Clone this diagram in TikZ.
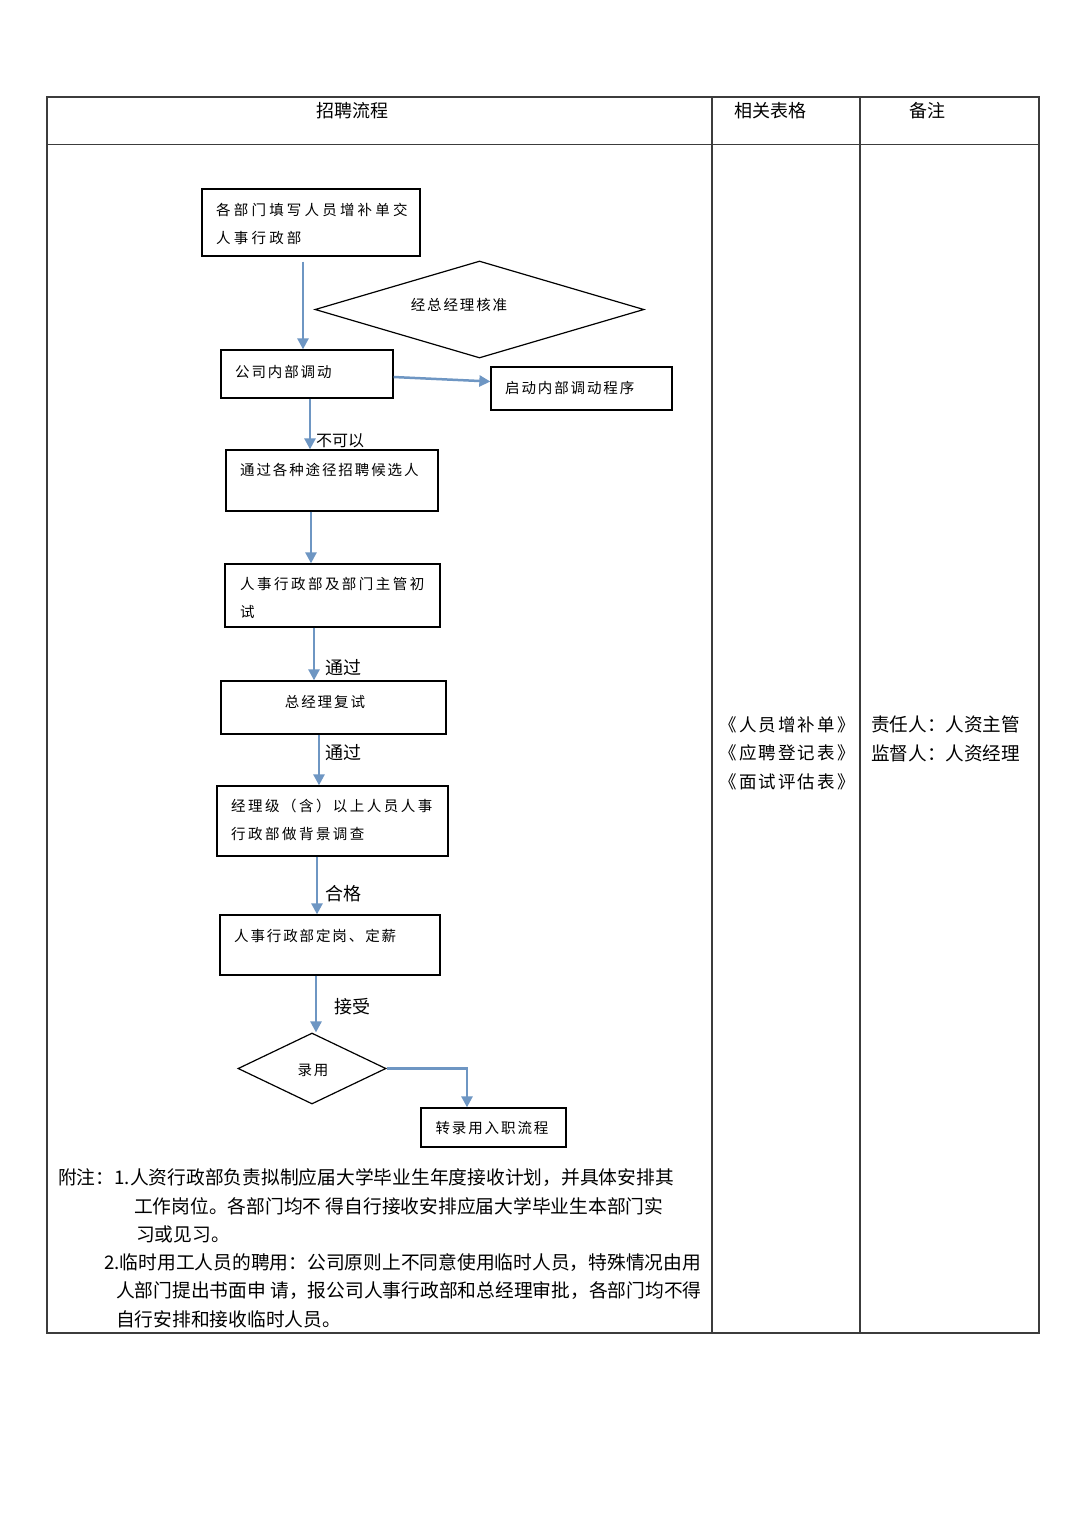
\documentclass[tikz,border=0pt]{standalone}
\usepackage{fontspec}
\setmainfont{Noto Sans CJK SC}
\newfontfamily\flfont[LetterSpace=13]{Noto Sans CJK SC}
\newfontfamily\flwide[LetterSpace=17]{Noto Sans CJK SC}
\newfontfamily\flwider[LetterSpace=22]{Noto Sans CJK SC}
\newfontfamily\formfont[LetterSpace=12]{Noto Sans CJK SC}
\usetikzlibrary{arrows.meta,shapes.geometric}
\definecolor{arrblue}{RGB}{110,150,195}
\definecolor{tabline}{RGB}{60,60,60}
\tikzset{
  flowbox/.style={draw=black, line width=1.3pt, rectangle, inner sep=0pt},
  decbox/.style={draw=black, line width=1.2pt, diamond, inner sep=0pt},
  flowtxt/.style={inner sep=0pt, font=\flfont\fontsize{14.5}{16}\selectfont},
  flowtxtw/.style={inner sep=0pt, font=\flwide\fontsize{14.5}{16}\selectfont},
  flowtxtww/.style={inner sep=0pt, font=\flwider\fontsize{14.5}{16}\selectfont},
  lbl/.style={inner sep=0pt, font=\fontsize{18}{20}\selectfont},
  hdr/.style={inner sep=0pt, font=\fontsize{18}{20}\selectfont},
  note/.style={inner sep=0pt, anchor=west, font=\fontsize{18.75}{20}\selectfont},
  arr/.style={draw=arrblue, line width=2.5pt, -{Triangle[length=11pt,width=11pt]}},
}
\begin{document}
\begin{tikzpicture}[x=1pt,y=-1pt]
\useasboundingbox (0,0) rectangle (1080,1527);
\fill[white] (0,0) rectangle (1080,1527);

% table
\draw[tabline, line width=1.2pt] (47,97) rectangle (1039,1333);
\draw[tabline, line width=1pt] (47,144) -- (1039,144);
\draw[tabline, line width=1.2pt] (712,97) -- (712,1333);
\draw[tabline, line width=1.2pt] (860,97) -- (860,1333);

\node[hdr] (h1) at (352,111) {招聘流程};
\node[hdr] (h2) at (770,111) {相关表格};
\node[hdr] (h3) at (927,111) {备注};

% flow boxes
\node[flowbox, minimum width=218pt, minimum height=67pt] (b1) at (311,222.5) {};
\node[flowtxtww, anchor=west] (t1a) at (216,210) {各部门填写人员增补单交};
\node[flowtxtww, anchor=west] (t1b) at (216,238) {人事行政部};

\node[decbox, minimum width=329pt, minimum height=97pt] (d1) at (479.5,309.5) {};
\node[flowtxt] (td1) at (459,305) {经总经理核准};

\node[flowbox, minimum width=172pt, minimum height=48pt] (b2) at (307,374) {};
\node[flowtxt, anchor=west] (t2) at (235,372) {公司内部调动};

\node[flowbox, minimum width=181pt, minimum height=43pt] (b3) at (581.5,388.5) {};
\node[flowtxt, anchor=west] (t3) at (505,388) {启动内部调动程序};

\node[flowbox, minimum width=212pt, minimum height=61pt] (b4) at (332,480.5) {};
\node[flowtxt, anchor=west] (t4) at (240,470) {通过各种途径招聘候选人};

\node[flowbox, minimum width=215pt, minimum height=63pt] (b5) at (332.5,595.5) {};
\node[flowtxtw, anchor=west] (t5a) at (240,584) {人事行政部及部门主管初};
\node[flowtxtw, anchor=west] (t5b) at (240,612) {试};

\node[flowbox, minimum width=225pt, minimum height=53pt] (b6) at (333.5,707.5) {};
\node[flowtxt] (t6) at (325,702) {总经理复试};

\node[flowbox, minimum width=231pt, minimum height=70pt] (b7) at (332.5,821) {};
\node[flowtxtw, anchor=west] (t7a) at (231,806) {经理级（含）以上人员人事};
\node[flowtxtw, anchor=west] (t7b) at (231,834) {行政部做背景调查};

\node[flowbox, minimum width=220pt, minimum height=60pt] (b8) at (330,945) {};
\node[flowtxt, anchor=west] (t8) at (234,936) {人事行政部定岗、定薪};

\node[decbox, minimum width=148pt, minimum height=71pt] (d2) at (312,1068.5) {};
\node[flowtxt] (td2) at (313,1070) {录用};

\node[flowbox, minimum width=145pt, minimum height=39pt] (b9) at (493.5,1127.5) {};
\node[flowtxt] (t9) at (492,1128) {转录用入职流程};

% arrow x positions
\coordinate (x1) at (303,0);
\coordinate (x3) at (310,0);
\coordinate (x4) at (311,0);
\coordinate (x5) at (314,0);
\coordinate (x6) at (319,0);
\coordinate (x7) at (317,0);
\coordinate (x8) at (316,0);
\coordinate (x9) at (467,0);

\draw[arr, shorten <=5pt] (b1.south -| x1) -- (b2.north -| x1);
\draw[arr] ([yshift=-3pt]b2.east) -- ([yshift=7pt]b3.west);
\draw[arr] (b2.south -| x3) -- (b4.north -| x3);
\draw[arr] (b4.south -| x4) -- (b5.north -| x4);
\draw[arr] (b5.south -| x5) -- (b6.north -| x5);
\draw[arr] (b6.south -| x6) -- (b7.north -| x6);
\draw[arr] (b7.south -| x7) -- (b8.north -| x7);
\draw[arr] (b8.south -| x8) -- (d2.north -| x8);
\draw[arr] (d2.east) -| (b9.north -| x9);

% connector labels
\node[inner sep=0pt, font=\fontsize{16}{18}\selectfont] (l1) at (340,441) {不可以};
\node[lbl] (l2) at (343,668) {通过};
\node[lbl] (l3) at (343,753) {通过};
\node[lbl] (l4) at (343,894) {合格};
\node[lbl] (l5) at (352,1007) {接受};

% right columns
\node[inner sep=0pt, align=center, font=\formfont\fontsize{17.5}{28.5}\selectfont] (forms) at (787,753)
  {《人员增补单》\\《应聘登记表》\\《面试评估表》};
\node[inner sep=0pt, align=left, anchor=west, font=\fontsize{18.6}{29}\selectfont] (remarks) at (871,738.5)
  {责任人：人资主管\\监督人：人资经理};

% footnote
\node[note] (n1) at (58,1178) {附注：1.人资行政部负责拟制应届大学毕业生年度接收计划，并具体安排其};
\node[note] (n2) at (134,1206) {工作岗位。各部门均不 得自行接收安排应届大学毕业生本部门实};
\node[note] (n3) at (136,1234) {习或见习。};
\node[note] (n4) at (104,1263) {2.临时用工人员的聘用：公司原则上不同意使用临时人员，特殊情况由用};
\node[note] (n5) at (116,1291) {人部门提出书面申 请，报公司人事行政部和总经理审批，各部门均不得};
\node[note] (n6) at (116,1319) {自行安排和接收临时人员。};
\end{tikzpicture}
\end{document}
